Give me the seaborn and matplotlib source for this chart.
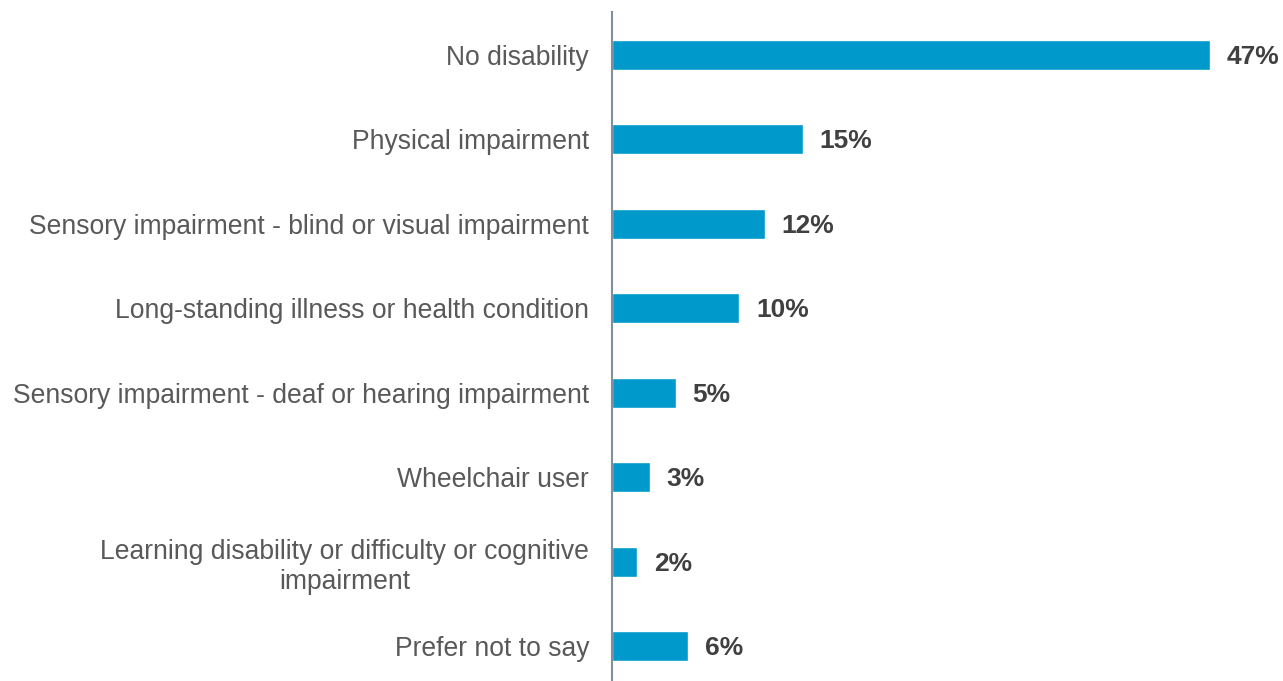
import pandas as pd
import matplotlib.pyplot as plt
import seaborn as sns

categories = [
    "No disability",
    "Physical impairment",
    "Sensory impairment - blind or visual impairment",
    "Long-standing illness or health condition",
    "Sensory impairment - deaf or hearing impairment",
    "Wheelchair user",
    "Learning disability or difficulty or cognitive\nimpairment",
    "Prefer not to say",
]
values = [47, 15, 12, 10, 5, 3, 2, 6]

df = pd.DataFrame({"category": categories, "pct": values})

sns.set_style("white")
plt.rcParams['font.family'] = ['Liberation Sans', 'DejaVu Sans']

fig = plt.figure(figsize=(12.83, 6.81), dpi=100)
ax = fig.add_axes([612 / 1283, 0, 1 - 612 / 1283, (681 - 12) / 681])

sns.barplot(data=df, x="pct", y="category", orient="h", color="#0099CC",
            width=0.355, saturation=1, ax=ax)

ax.set_xlim(0, 47 * 671 / 598)
ax.set_ylim(7.414, -0.509)

for c in ax.containers:
    anns = ax.bar_label(c, labels=[f"{v}%" for v in values], padding=12,
                        fontsize=19, fontweight="bold", color="#404040")
    for t in anns:
        t.xyann = (12, -1.5)

ax.set_xlabel("")
ax.set_ylabel("")
ax.set_xticks([])
ax.tick_params(axis="y", length=0, pad=16.5, labelsize=19.1, labelcolor="#595959")
for lbl in ax.get_yticklabels():
    lbl.set_multialignment("center")
    lbl.set_linespacing(1.2)

for side in ["top", "right", "bottom"]:
    ax.spines[side].set_visible(False)
ax.spines["left"].set_color("#7F8FA0")
ax.spines["left"].set_linewidth(1.5)

fig.savefig("out.png", dpi=100)
plt.close()
